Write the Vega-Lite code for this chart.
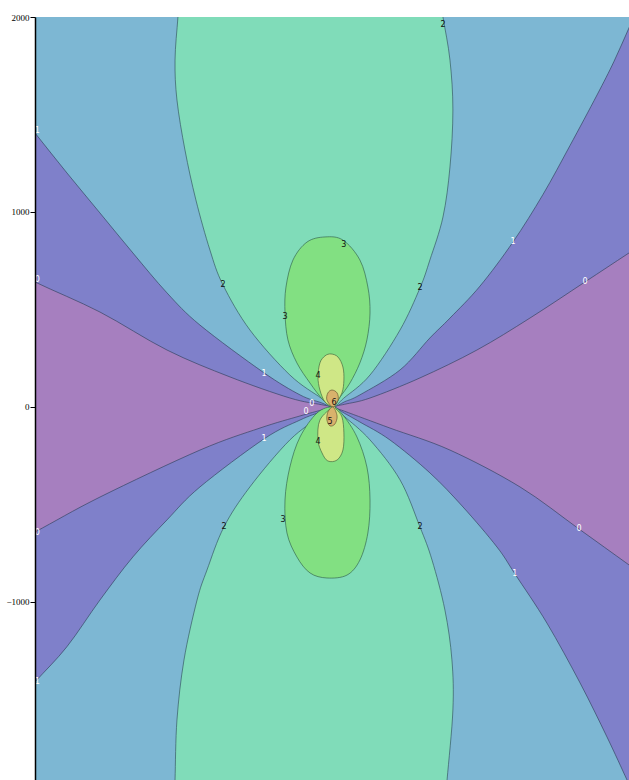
{
  "$schema": "https://vega.github.io/schema/vega-lite/v6.json",
  "width": 594,
  "height": 763,
  "autosize": "none",
  "padding": {"left": 35, "top": 17, "right": 0, "bottom": 0},
  "background": "white",
  "config": {"view": {"fill": "#7f80ca", "stroke": "#8f9a9a", "strokeWidth": 1}},
  "datasets": {
    "regions": [
      {"id":"p0L","level":0,"i":0,"x":-1800,"y":780},{"id":"p0L","level":0,"i":1,"x":-1528,"y":641},{"id":"p0L","level":0,"i":2,"x":-1195,"y":487},{"id":"p0L","level":0,"i":3,"x":-851,"y":292},{"id":"p0L","level":0,"i":4,"x":-528,"y":154},{"id":"p0L","level":0,"i":5,"x":-221,"y":46},{"id":"p0L","level":0,"i":6,"x":-60,"y":12},{"id":"p0L","level":0,"i":7,"x":0,"y":0},{"id":"p0L","level":0,"i":8,"x":-60,"y":-16},{"id":"p0L","level":0,"i":9,"x":-169,"y":-46},{"id":"p0L","level":0,"i":10,"x":-374,"y":-108},{"id":"p0L","level":0,"i":11,"x":-682,"y":-221},{"id":"p0L","level":0,"i":12,"x":-1195,"y":-462},{"id":"p0L","level":0,"i":13,"x":-1528,"y":-641},{"id":"p0L","level":0,"i":14,"x":-1800,"y":-780},
      {"id":"p0R","level":0,"i":0,"x":0,"y":0},{"id":"p0R","level":0,"i":1,"x":60,"y":14},{"id":"p0R","level":0,"i":2,"x":190,"y":46},{"id":"p0R","level":0,"i":3,"x":446,"y":149},{"id":"p0R","level":0,"i":4,"x":738,"y":292},{"id":"p0R","level":0,"i":5,"x":1010,"y":456},{"id":"p0R","level":0,"i":6,"x":1292,"y":641},{"id":"p0R","level":0,"i":7,"x":1518,"y":790},{"id":"p0R","level":0,"i":8,"x":1800,"y":976},{"id":"p0R","level":0,"i":9,"x":1800,"y":-1013},{"id":"p0R","level":0,"i":10,"x":1518,"y":-810},{"id":"p0R","level":0,"i":11,"x":1262,"y":-626},{"id":"p0R","level":0,"i":12,"x":959,"y":-410},{"id":"p0R","level":0,"i":13,"x":600,"y":-221},{"id":"p0R","level":0,"i":14,"x":292,"y":-108},{"id":"p0R","level":0,"i":15,"x":60,"y":-22},
      {"id":"p1U","level":1,"i":0,"x":-1700,"y":2400},{"id":"p1U","level":1,"i":1,"x":-1700,"y":1620},{"id":"p1U","level":1,"i":2,"x":-1528,"y":1405},{"id":"p1U","level":1,"i":3,"x":-1364,"y":1200},{"id":"p1U","level":1,"i":4,"x":-1195,"y":995},{"id":"p1U","level":1,"i":5,"x":-1026,"y":790},{"id":"p1U","level":1,"i":6,"x":-851,"y":585},{"id":"p1U","level":1,"i":7,"x":-682,"y":420},{"id":"p1U","level":1,"i":8,"x":-359,"y":179},{"id":"p1U","level":1,"i":9,"x":-169,"y":62},{"id":"p1U","level":1,"i":10,"x":-60,"y":22},{"id":"p1U","level":1,"i":11,"x":0,"y":0},{"id":"p1U","level":1,"i":12,"x":60,"y":27},{"id":"p1U","level":1,"i":13,"x":138,"y":62},{"id":"p1U","level":1,"i":14,"x":344,"y":190},{"id":"p1U","level":1,"i":15,"x":497,"y":354},{"id":"p1U","level":1,"i":16,"x":600,"y":456},{"id":"p1U","level":1,"i":17,"x":754,"y":620},{"id":"p1U","level":1,"i":18,"x":923,"y":846},{"id":"p1U","level":1,"i":19,"x":1077,"y":1090},{"id":"p1U","level":1,"i":20,"x":1215,"y":1340},{"id":"p1U","level":1,"i":21,"x":1354,"y":1600},{"id":"p1U","level":1,"i":22,"x":1440,"y":1770},{"id":"p1U","level":1,"i":23,"x":1518,"y":1944},{"id":"p1U","level":1,"i":24,"x":1600,"y":2124},{"id":"p1U","level":1,"i":25,"x":1700,"y":2400},
      {"id":"p1D","level":1,"i":0,"x":-1700,"y":-2400},{"id":"p1D","level":1,"i":1,"x":-1700,"y":-1600},{"id":"p1D","level":1,"i":2,"x":-1528,"y":-1410},{"id":"p1D","level":1,"i":3,"x":-1364,"y":-1229},{"id":"p1D","level":1,"i":4,"x":-1195,"y":-990},{"id":"p1D","level":1,"i":5,"x":-1026,"y":-769},{"id":"p1D","level":1,"i":6,"x":-851,"y":-579},{"id":"p1D","level":1,"i":7,"x":-682,"y":-410},{"id":"p1D","level":1,"i":8,"x":-354,"y":-164},{"id":"p1D","level":1,"i":9,"x":-169,"y":-67},{"id":"p1D","level":1,"i":10,"x":-60,"y":-24},{"id":"p1D","level":1,"i":11,"x":0,"y":0},{"id":"p1D","level":1,"i":12,"x":60,"y":-33},{"id":"p1D","level":1,"i":13,"x":138,"y":-77},{"id":"p1D","level":1,"i":14,"x":292,"y":-169},{"id":"p1D","level":1,"i":15,"x":497,"y":-338},{"id":"p1D","level":1,"i":16,"x":667,"y":-513},{"id":"p1D","level":1,"i":17,"x":841,"y":-718},{"id":"p1D","level":1,"i":18,"x":933,"y":-856},{"id":"p1D","level":1,"i":19,"x":1097,"y":-1108},{"id":"p1D","level":1,"i":20,"x":1267,"y":-1415},{"id":"p1D","level":1,"i":21,"x":1405,"y":-1692},{"id":"p1D","level":1,"i":22,"x":1508,"y":-1913},{"id":"p1D","level":1,"i":23,"x":1560,"y":-2025},{"id":"p1D","level":1,"i":24,"x":1700,"y":-2400},
      {"id":"p2U","level":2,"i":0,"x":0,"y":0},{"id":"p2U","level":2,"i":1,"x":-60,"y":45},{"id":"p2U","level":2,"i":2,"x":-221,"y":164},{"id":"p2U","level":2,"i":3,"x":-426,"y":395},{"id":"p2U","level":2,"i":4,"x":-564,"y":626},{"id":"p2U","level":2,"i":5,"x":-631,"y":805},{"id":"p2U","level":2,"i":6,"x":-703,"y":1062},{"id":"p2U","level":2,"i":7,"x":-759,"y":1318},{"id":"p2U","level":2,"i":8,"x":-800,"y":1574},{"id":"p2U","level":2,"i":9,"x":-810,"y":1779},{"id":"p2U","level":2,"i":10,"x":-795,"y":2000},{"id":"p2U","level":2,"i":11,"x":-781,"y":2200},{"id":"p2U","level":2,"i":12,"x":531,"y":2200},{"id":"p2U","level":2,"i":13,"x":564,"y":2000},{"id":"p2U","level":2,"i":14,"x":600,"y":1779},{"id":"p2U","level":2,"i":15,"x":615,"y":1523},{"id":"p2U","level":2,"i":16,"x":600,"y":1231},{"id":"p2U","level":2,"i":17,"x":564,"y":974},{"id":"p2U","level":2,"i":18,"x":497,"y":754},{"id":"p2U","level":2,"i":19,"x":446,"y":610},{"id":"p2U","level":2,"i":20,"x":344,"y":395},{"id":"p2U","level":2,"i":21,"x":190,"y":164},{"id":"p2U","level":2,"i":22,"x":55,"y":45},
      {"id":"p2D","level":2,"i":0,"x":0,"y":0},{"id":"p2D","level":2,"i":1,"x":-60,"y":-46},{"id":"p2D","level":2,"i":2,"x":-221,"y":-169},{"id":"p2D","level":2,"i":3,"x":-426,"y":-410},{"id":"p2D","level":2,"i":4,"x":-559,"y":-615},{"id":"p2D","level":2,"i":5,"x":-646,"y":-836},{"id":"p2D","level":2,"i":6,"x":-697,"y":-990},{"id":"p2D","level":2,"i":7,"x":-764,"y":-1297},{"id":"p2D","level":2,"i":8,"x":-800,"y":-1605},{"id":"p2D","level":2,"i":9,"x":-810,"y":-1913},{"id":"p2D","level":2,"i":10,"x":-816,"y":-2100},{"id":"p2D","level":2,"i":11,"x":569,"y":-2100},{"id":"p2D","level":2,"i":12,"x":585,"y":-1913},{"id":"p2D","level":2,"i":13,"x":615,"y":-1554},{"id":"p2D","level":2,"i":14,"x":610,"y":-1297},{"id":"p2D","level":2,"i":15,"x":574,"y":-1041},{"id":"p2D","level":2,"i":16,"x":508,"y":-785},{"id":"p2D","level":2,"i":17,"x":446,"y":-615},{"id":"p2D","level":2,"i":18,"x":344,"y":-374},{"id":"p2D","level":2,"i":19,"x":190,"y":-169},{"id":"p2D","level":2,"i":20,"x":55,"y":-46},
      {"id":"p3U","level":3,"i":0,"x":0,"y":0},{"id":"p3U","level":3,"i":1,"x":-51,"y":36},{"id":"p3U","level":3,"i":2,"x":-118,"y":123},{"id":"p3U","level":3,"i":3,"x":-185,"y":226},{"id":"p3U","level":3,"i":4,"x":-231,"y":344},{"id":"p3U","level":3,"i":5,"x":-246,"y":482},{"id":"p3U","level":3,"i":6,"x":-241,"y":615},{"id":"p3U","level":3,"i":7,"x":-205,"y":754},{"id":"p3U","level":3,"i":8,"x":-133,"y":846},{"id":"p3U","level":3,"i":9,"x":-41,"y":872},{"id":"p3U","level":3,"i":10,"x":51,"y":856},{"id":"p3U","level":3,"i":11,"x":138,"y":754},{"id":"p3U","level":3,"i":12,"x":179,"y":615},{"id":"p3U","level":3,"i":13,"x":190,"y":482},{"id":"p3U","level":3,"i":14,"x":174,"y":344},{"id":"p3U","level":3,"i":15,"x":138,"y":226},{"id":"p3U","level":3,"i":16,"x":87,"y":123},{"id":"p3U","level":3,"i":17,"x":36,"y":51},
      {"id":"p3D","level":3,"i":0,"x":0,"y":0},{"id":"p3D","level":3,"i":1,"x":-82,"y":-31},{"id":"p3D","level":3,"i":2,"x":-169,"y":-154},{"id":"p3D","level":3,"i":3,"x":-221,"y":-308},{"id":"p3D","level":3,"i":4,"x":-246,"y":-477},{"id":"p3D","level":3,"i":5,"x":-236,"y":-646},{"id":"p3D","level":3,"i":6,"x":-185,"y":-769},{"id":"p3D","level":3,"i":7,"x":-118,"y":-851},{"id":"p3D","level":3,"i":8,"x":-31,"y":-877},{"id":"p3D","level":3,"i":9,"x":72,"y":-862},{"id":"p3D","level":3,"i":10,"x":138,"y":-785},{"id":"p3D","level":3,"i":11,"x":179,"y":-646},{"id":"p3D","level":3,"i":12,"x":190,"y":-477},{"id":"p3D","level":3,"i":13,"x":174,"y":-308},{"id":"p3D","level":3,"i":14,"x":123,"y":-154},{"id":"p3D","level":3,"i":15,"x":51,"y":-41},
      {"id":"p4U","level":4,"i":0,"x":0,"y":0},{"id":"p4U","level":4,"i":1,"x":-41,"y":26},{"id":"p4U","level":4,"i":2,"x":-67,"y":87},{"id":"p4U","level":4,"i":3,"x":-77,"y":154},{"id":"p4U","level":4,"i":4,"x":-67,"y":226},{"id":"p4U","level":4,"i":5,"x":-41,"y":262},{"id":"p4U","level":4,"i":6,"x":-10,"y":272},{"id":"p4U","level":4,"i":7,"x":26,"y":256},{"id":"p4U","level":4,"i":8,"x":51,"y":205},{"id":"p4U","level":4,"i":9,"x":56,"y":138},{"id":"p4U","level":4,"i":10,"x":46,"y":72},{"id":"p4U","level":4,"i":11,"x":10,"y":10},
      {"id":"p4D","level":4,"i":0,"x":0,"y":0},{"id":"p4D","level":4,"i":1,"x":-67,"y":-67},{"id":"p4D","level":4,"i":2,"x":-77,"y":-169},{"id":"p4D","level":4,"i":3,"x":-56,"y":-236},{"id":"p4D","level":4,"i":4,"x":-26,"y":-277},{"id":"p4D","level":4,"i":5,"x":21,"y":-272},{"id":"p4D","level":4,"i":6,"x":51,"y":-221},{"id":"p4D","level":4,"i":7,"x":56,"y":-133},{"id":"p4D","level":4,"i":8,"x":46,"y":-51},{"id":"p4D","level":4,"i":9,"x":15,"y":-10},
      {"id":"p5U","level":5,"i":0,"x":0,"y":0},{"id":"p5U","level":5,"i":1,"x":-31,"y":36},{"id":"p5U","level":5,"i":2,"x":-26,"y":72},{"id":"p5U","level":5,"i":3,"x":-5,"y":87},{"id":"p5U","level":5,"i":4,"x":21,"y":72},{"id":"p5U","level":5,"i":5,"x":26,"y":36},
      {"id":"p5D","level":5,"i":0,"x":0,"y":0},{"id":"p5D","level":5,"i":1,"x":-26,"y":-26},{"id":"p5D","level":5,"i":2,"x":-31,"y":-67},{"id":"p5D","level":5,"i":3,"x":-15,"y":-97},{"id":"p5D","level":5,"i":4,"x":10,"y":-87},{"id":"p5D","level":5,"i":5,"x":21,"y":-46}
    ],
    "labels": [
      {"t":"2","level":2,"x":564,"y":1959},
      {"t":"1","level":1,"x":-1516,"y":1415},
      {"t":"1","level":1,"x":923,"y":846},
      {"t":"3","level":3,"x":56,"y":831},
      {"t":"2","level":2,"x":-564,"y":626},
      {"t":"2","level":2,"x":446,"y":610},
      {"t":"0","level":0,"x":-1516,"y":651},
      {"t":"0","level":0,"x":1292,"y":641},
      {"t":"3","level":3,"x":-246,"y":462},
      {"t":"1","level":1,"x":-354,"y":169},
      {"t":"4","level":4,"x":-77,"y":159},
      {"t":"0","level":0,"x":-108,"y":15},
      {"t":"0","level":0,"x":-138,"y":-26},
      {"t":"6","level":6,"x":5,"y":20},
      {"t":"5","level":5,"x":-15,"y":-77},
      {"t":"1","level":1,"x":-354,"y":-164},
      {"t":"4","level":4,"x":-77,"y":-179},
      {"t":"3","level":3,"x":-256,"y":-579},
      {"t":"2","level":2,"x":-559,"y":-615},
      {"t":"2","level":2,"x":446,"y":-615},
      {"t":"0","level":0,"x":1262,"y":-626},
      {"t":"0","level":0,"x":-1516,"y":-646},
      {"t":"1","level":1,"x":933,"y":-856},
      {"t":"1","level":1,"x":-1516,"y":-1410}
    ]
  },
  "encoding": {
    "x": {"field": "x", "type": "quantitative", "scale": {"domain": [-1528, 1518], "nice": false, "zero": false}, "axis": null},
    "y": {"field": "y", "type": "quantitative", "scale": {"domain": [-1913, 2000], "nice": false, "zero": false},
          "axis": {"values": [-1000, 0, 1000, 2000], "format": "d", "grid": false, "title": null, "labelFont": "Liberation Serif", "labelFontSize": 9, "labelColor": "#000", "tickColor": "#000", "tickSize": 5, "domainColor": "#000", "domainWidth": 1.5, "labelPadding": 1, "zindex": 1}}
  },
  "layer": [
    {"data": {"name": "regions"}, "transform": [{"filter": "datum.level == 0"}],
     "mark": {"type": "line", "fill": "#a67fbf", "stroke": "#2f3f5a", "strokeWidth": 0.8, "strokeOpacity": 0.8, "interpolate": "cardinal-closed", "clip": true},
     "encoding": {"detail": {"field": "id"}, "order": {"field": "i", "type": "quantitative"}}},
    {"data": {"name": "regions"}, "transform": [{"filter": "datum.level == 1"}],
     "mark": {"type": "line", "fill": "#7db7d3", "stroke": "#2f3f5a", "strokeWidth": 0.8, "strokeOpacity": 0.8, "interpolate": "cardinal-closed", "clip": true},
     "encoding": {"detail": {"field": "id"}, "order": {"field": "i", "type": "quantitative"}}},
    {"data": {"name": "regions"}, "transform": [{"filter": "datum.level == 2"}],
     "mark": {"type": "line", "fill": "#80dcb9", "stroke": "#2f4f5a", "strokeWidth": 0.8, "strokeOpacity": 0.8, "interpolate": "cardinal-closed", "clip": true},
     "encoding": {"detail": {"field": "id"}, "order": {"field": "i", "type": "quantitative"}}},
    {"data": {"name": "regions"}, "transform": [{"filter": "datum.level == 3"}],
     "mark": {"type": "line", "fill": "#82e082", "stroke": "#2f5f4a", "strokeWidth": 0.8, "strokeOpacity": 0.8, "interpolate": "cardinal-closed", "clip": true},
     "encoding": {"detail": {"field": "id"}, "order": {"field": "i", "type": "quantitative"}}},
    {"data": {"name": "regions"}, "transform": [{"filter": "datum.level == 4"}],
     "mark": {"type": "line", "fill": "#cfe786", "stroke": "#3f5f3a", "strokeWidth": 0.8, "strokeOpacity": 0.8, "interpolate": "cardinal-closed", "clip": true},
     "encoding": {"detail": {"field": "id"}, "order": {"field": "i", "type": "quantitative"}}},
    {"data": {"name": "regions"}, "transform": [{"filter": "datum.level == 5"}],
     "mark": {"type": "line", "fill": "#d9b26c", "stroke": "#5f4f2a", "strokeWidth": 0.8, "strokeOpacity": 0.8, "interpolate": "cardinal-closed", "clip": true},
     "encoding": {"detail": {"field": "id"}, "order": {"field": "i", "type": "quantitative"}}},
    {"data": {"name": "labels"}, "transform": [{"filter": "datum.level <= 1"}],
     "mark": {"type": "text", "font": "DejaVu Sans", "fontSize": 8, "color": "#ffffff"},
     "encoding": {"text": {"field": "t"}}},
    {"data": {"name": "labels"}, "transform": [{"filter": "datum.level >= 2"}],
     "mark": {"type": "text", "font": "DejaVu Sans", "fontSize": 8, "color": "#111111"},
     "encoding": {"text": {"field": "t"}}}
  ]
}
